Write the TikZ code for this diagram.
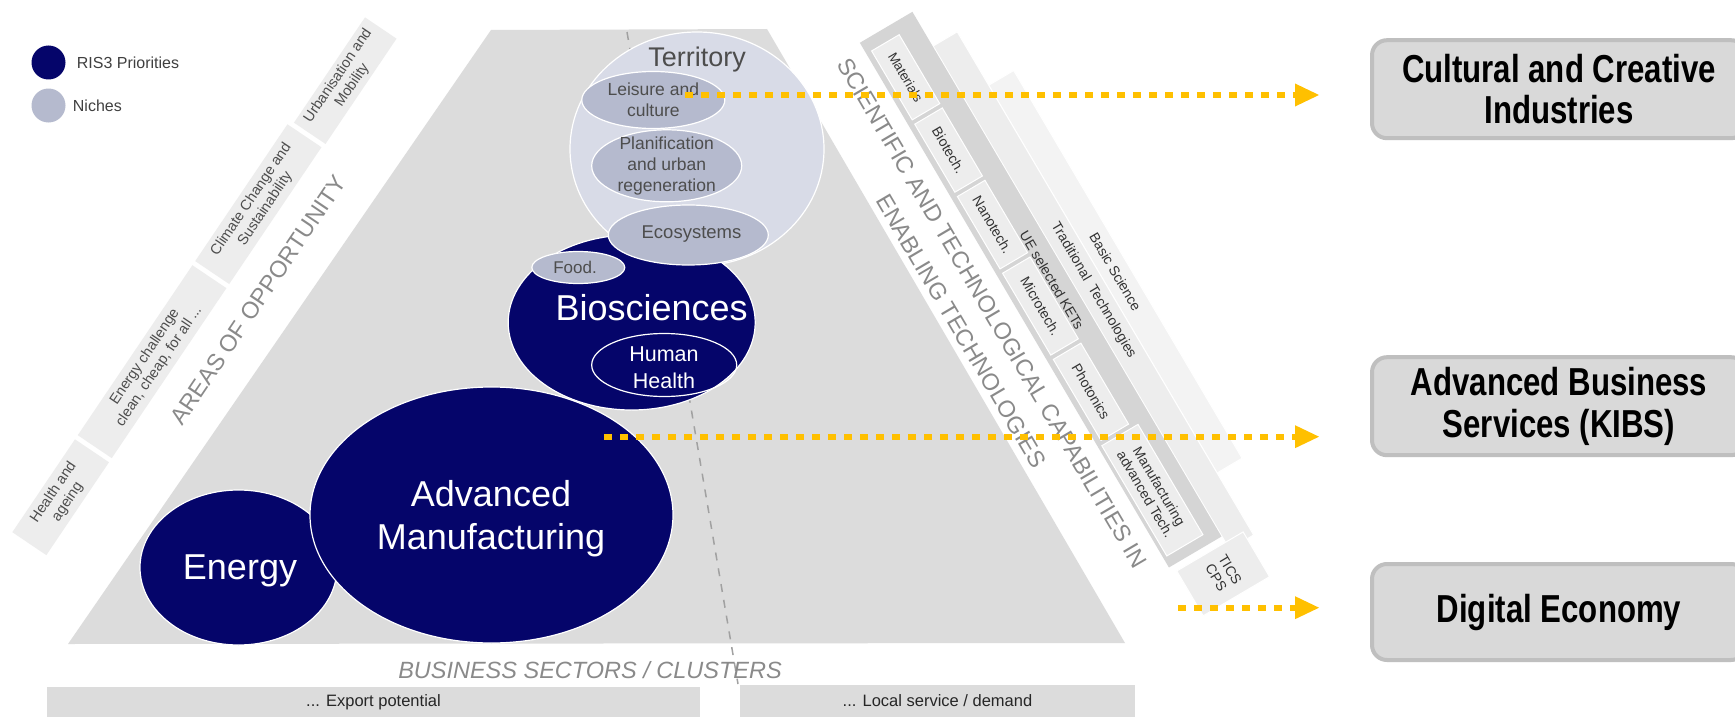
\documentclass[tikz,border=0pt]{standalone}
\usepackage{graphicx}
\usepackage{fontspec}
\setmainfont{Liberation Sans}
\usetikzlibrary{arrows.meta,shapes.geometric,positioning}

\definecolor{ris}{HTML}{05056A}
\definecolor{niche}{HTML}{B5BACE}
\definecolor{terr}{HTML}{D8DBE7}
\definecolor{base}{HTML}{DCDCDC}
\definecolor{band}{HTML}{D5D5D5}
\definecolor{card}{HTML}{EDEDED}
\definecolor{pale}{HTML}{F3F3F3}
\definecolor{amber}{HTML}{FFC000}
\definecolor{ink}{HTML}{4D4D4D}
\definecolor{soft}{HTML}{8A8A8A}
\definecolor{boxfill}{HTML}{D9D9D9}
\definecolor{boxline}{HTML}{BFBFBF}

\newcommand{\fsz}[2]{\fontsize{#1}{#2}\selectfont}
\newcommand{\narrow}[1]{\scalebox{0.8}[1]{#1}}

\tikzset{
  prio/.style={ellipse, fill=ris, draw=white, line width=1.2pt, inner sep=0pt},
  niche/.style={ellipse, fill=niche, draw=white, line width=1.2pt, inner sep=0pt},
  bigtxt/.style={text=white, align=center, font=\fsz{36}{43}},
  nichetxt/.style={text=ink, align=center, font=\fsz{17.5}{21}},
  legtxt/.style={text=black!75, inner sep=0pt, font=\fsz{16}{19}},
  oppbox/.style={fill=card, inner sep=0pt, align=center, text=ink, font=\fsz{14.5}{17}},
  ketbox/.style={fill=card, draw=white, line width=1pt, inner sep=0pt, align=center, text=black!80, font=\fsz{14}{16}},
  axislabel/.style={text=soft, align=center, font=\fsz{23.5}{36}},
  sectorbar/.style={fill=base, inner sep=0pt, text=black!85, font=\fsz{16.5}{20}},
  target/.style={rounded corners=15pt, fill=boxfill, draw=boxline, line width=4pt, align=center, font=\fsz{39}{41.7}\bfseries},
  flow/.style={amber, line width=6pt, dash pattern=on 7.5pt off 8.5pt, -{Triangle[length=24pt,width=23pt,line width=0pt]}},
}

\begin{document}
\begin{tikzpicture}[x=1pt, y=-1pt]
\useasboundingbox (0,0) rectangle (1735,717);
\fill[white] (0,0) rectangle (1735,717);

% legend
\node[circle, fill=ris, minimum size=34, inner sep=0pt] (leg-ris) at (48.5,62.5) {};
\node[circle, fill=niche, minimum size=34, inner sep=0pt] (leg-niche) at (48.5,105.5) {};
\node[legtxt, right=11pt of leg-ris] (leg-ris-t) {RIS3 Priorities};
\node[legtxt, right=7pt of leg-niche] (leg-niche-t) {Niches};

% sectors and the export / local split
\fill[base] (491,30) -- (767,29) -- (1125,643) -- (68,644) -- cycle;
\draw[soft!80, line width=1.5pt, dash pattern=on 8pt off 8pt] (627,32) -- (738,684);

% areas of opportunity, along the left side
\begin{scope}[shift={(491,30)}, rotate=56, y=1pt, transform shape]
\node[oppbox, minimum width=112, minimum height=41] (health) at (-628,95.5) {Health and\\ageing};
\node[oppbox, minimum width=205, minimum height=41] (energych) at (-464.5,95.5) {Energy challenge\\clean, cheap, for all ...};
\node[oppbox, minimum width=165, minimum height=41] (climate) at (-274.5,95.5) {Climate Change and\\Sustainability};
\node[oppbox, minimum width=127, minimum height=38] (urban) at (-123.5,92.5) {Urbanisation and\\Mobility};
\node[axislabel] (areas) at (-354,42) {AREAS OF OPPORTUNITY};
\end{scope}

% capabilities, along the right side
\begin{scope}[shift={(767,29)}, rotate=-59.5, y=1pt, transform shape]
\node[ketbox, fill=pale, minimum width=450, minimum height=29] (basic) at (386,177) {Basic Science};
\node[ketbox, fill=card, minimum width=584, minimum height=28] (trad) at (391,148.5) {Traditional~~Technologies};
\node[fill=band, inner sep=0pt, minimum width=609, minimum height=61] (kets) at (363.5,103.5) {};
\node[ketbox, fill=none, draw=none] (kets-t) at (361,118) {UE selected KETs};
\node[ketbox, minimum width=80, minimum height=32, font=\fsz{13.5}{16}] (mat) at (112,95) {Materials};
\node[ketbox, minimum width=79, minimum height=32] (bio-k) at (196.5,95) {Biotech.};
\node[ketbox, minimum width=84, minimum height=32] (nano) at (283,95) {Nanotech.};
\node[ketbox, minimum width=95, minimum height=32] (micro) at (377.5,95) {Microtech.};
\node[ketbox, minimum width=94, minimum height=32] (photo) at (477,95) {Photonics};
\node[ketbox, minimum width=128, minimum height=42] (manuf) at (593,98) {Manufacturing\\advanced Tech.};
\node[ketbox, minimum width=52, minimum height=77] (tics) at (701,116.5) {TICS\\CPS};
\node[axislabel] (sci) at (359,32) {SCIENTIFIC AND TECHNOLOGICAL CAPABILITIES IN\\ENABLING TECHNOLOGIES};
\end{scope}

% priorities and niches
\node[prio, minimum width=197, minimum height=155] (energy) at (238.5,567.5) {};
\node[bigtxt] (energy-t) at (240,571) {Energy};
\node[prio, minimum width=363, minimum height=256] (advman) at (491.5,515) {};
\node[bigtxt] (advman-t) at (491,519) {Advanced\\Manufacturing};
\node[ellipse, fill=terr, draw=white, line width=1.2pt, minimum width=254, minimum height=234] (territory) at (697,149) {};
\node[text=ink, font=\fsz{27}{32}] (territory-t) at (697,60) {Territory};
\node[prio, minimum width=247, minimum height=175] (bio) at (631.7,322.5) {};
\node[bigtxt] (bio-t) at (651.7,308) {Biosciences};
\node[ellipse, draw=white, line width=1.2pt, minimum width=145, minimum height=63] (human) at (664.2,365) {};
\node[text=white, align=center, font=\fsz{21.5}{26.5}] (human-t) at (664,367.5) {Human\\Health};
\node[niche, minimum width=93, minimum height=32] (food) at (578.3,267.5) {};
\node[nichetxt, font=\fsz{17}{20}] (food-t) at (575,267) {Food.};
\node[niche, minimum width=143, minimum height=57] (leisure) at (653.3,100) {};
\node[nichetxt] (leisure-t) at (leisure) {Leisure and\\culture};
\node[niche, minimum width=150, minimum height=72] (plan) at (666.7,165.8) {};
\node[nichetxt] (plan-t) at (plan) {Planification\\and urban\\regeneration};
\node[niche, minimum width=160, minimum height=60] (eco) at (688.3,235) {};
\node[nichetxt, font=\fsz{18.5}{22}] (eco-t) at (691.5,234.5) {Ecosystems};

% business sectors
\node[axislabel, font=\fsz{23.5}{28}\itshape] (sectors) at (590,670) {BUSINESS SECTORS / CLUSTERS};
\node[sectorbar, minimum width=653, minimum height=31] (export) at (373.5,702.5) {... Export potential};
\node[sectorbar, minimum width=395, minimum height=32] (local) at (937.5,701) {... Local service / demand};

% target sectors
\node[target, minimum width=374, minimum height=98] (cci) at (1559,89.2) {\narrow{Cultural and Creative}\\\narrow{Industries}};
\node[target, minimum width=374, minimum height=98] (kibs) at (1559,406.2) {\narrow{Advanced Business}\\\narrow{Services (KIBS)}};
\node[target, minimum width=374, minimum height=96] (digital) at (1559,612) {\narrow{Digital Economy}};

\coordinate (leisure-out) at (685,95);
\coordinate (cci-in) at (1319,95);
\coordinate (advman-out) at (604,436.7);
\coordinate (kibs-in) at (1319,436.7);
\coordinate (tics-out) at (1178,607.7);
\coordinate (digital-in) at (1319,607.7);
\draw[flow] (leisure-out) -- (cci-in);
\draw[flow] (advman-out) -- (kibs-in);
\draw[flow] (tics-out) -- (digital-in);
\end{tikzpicture}
\end{document}
